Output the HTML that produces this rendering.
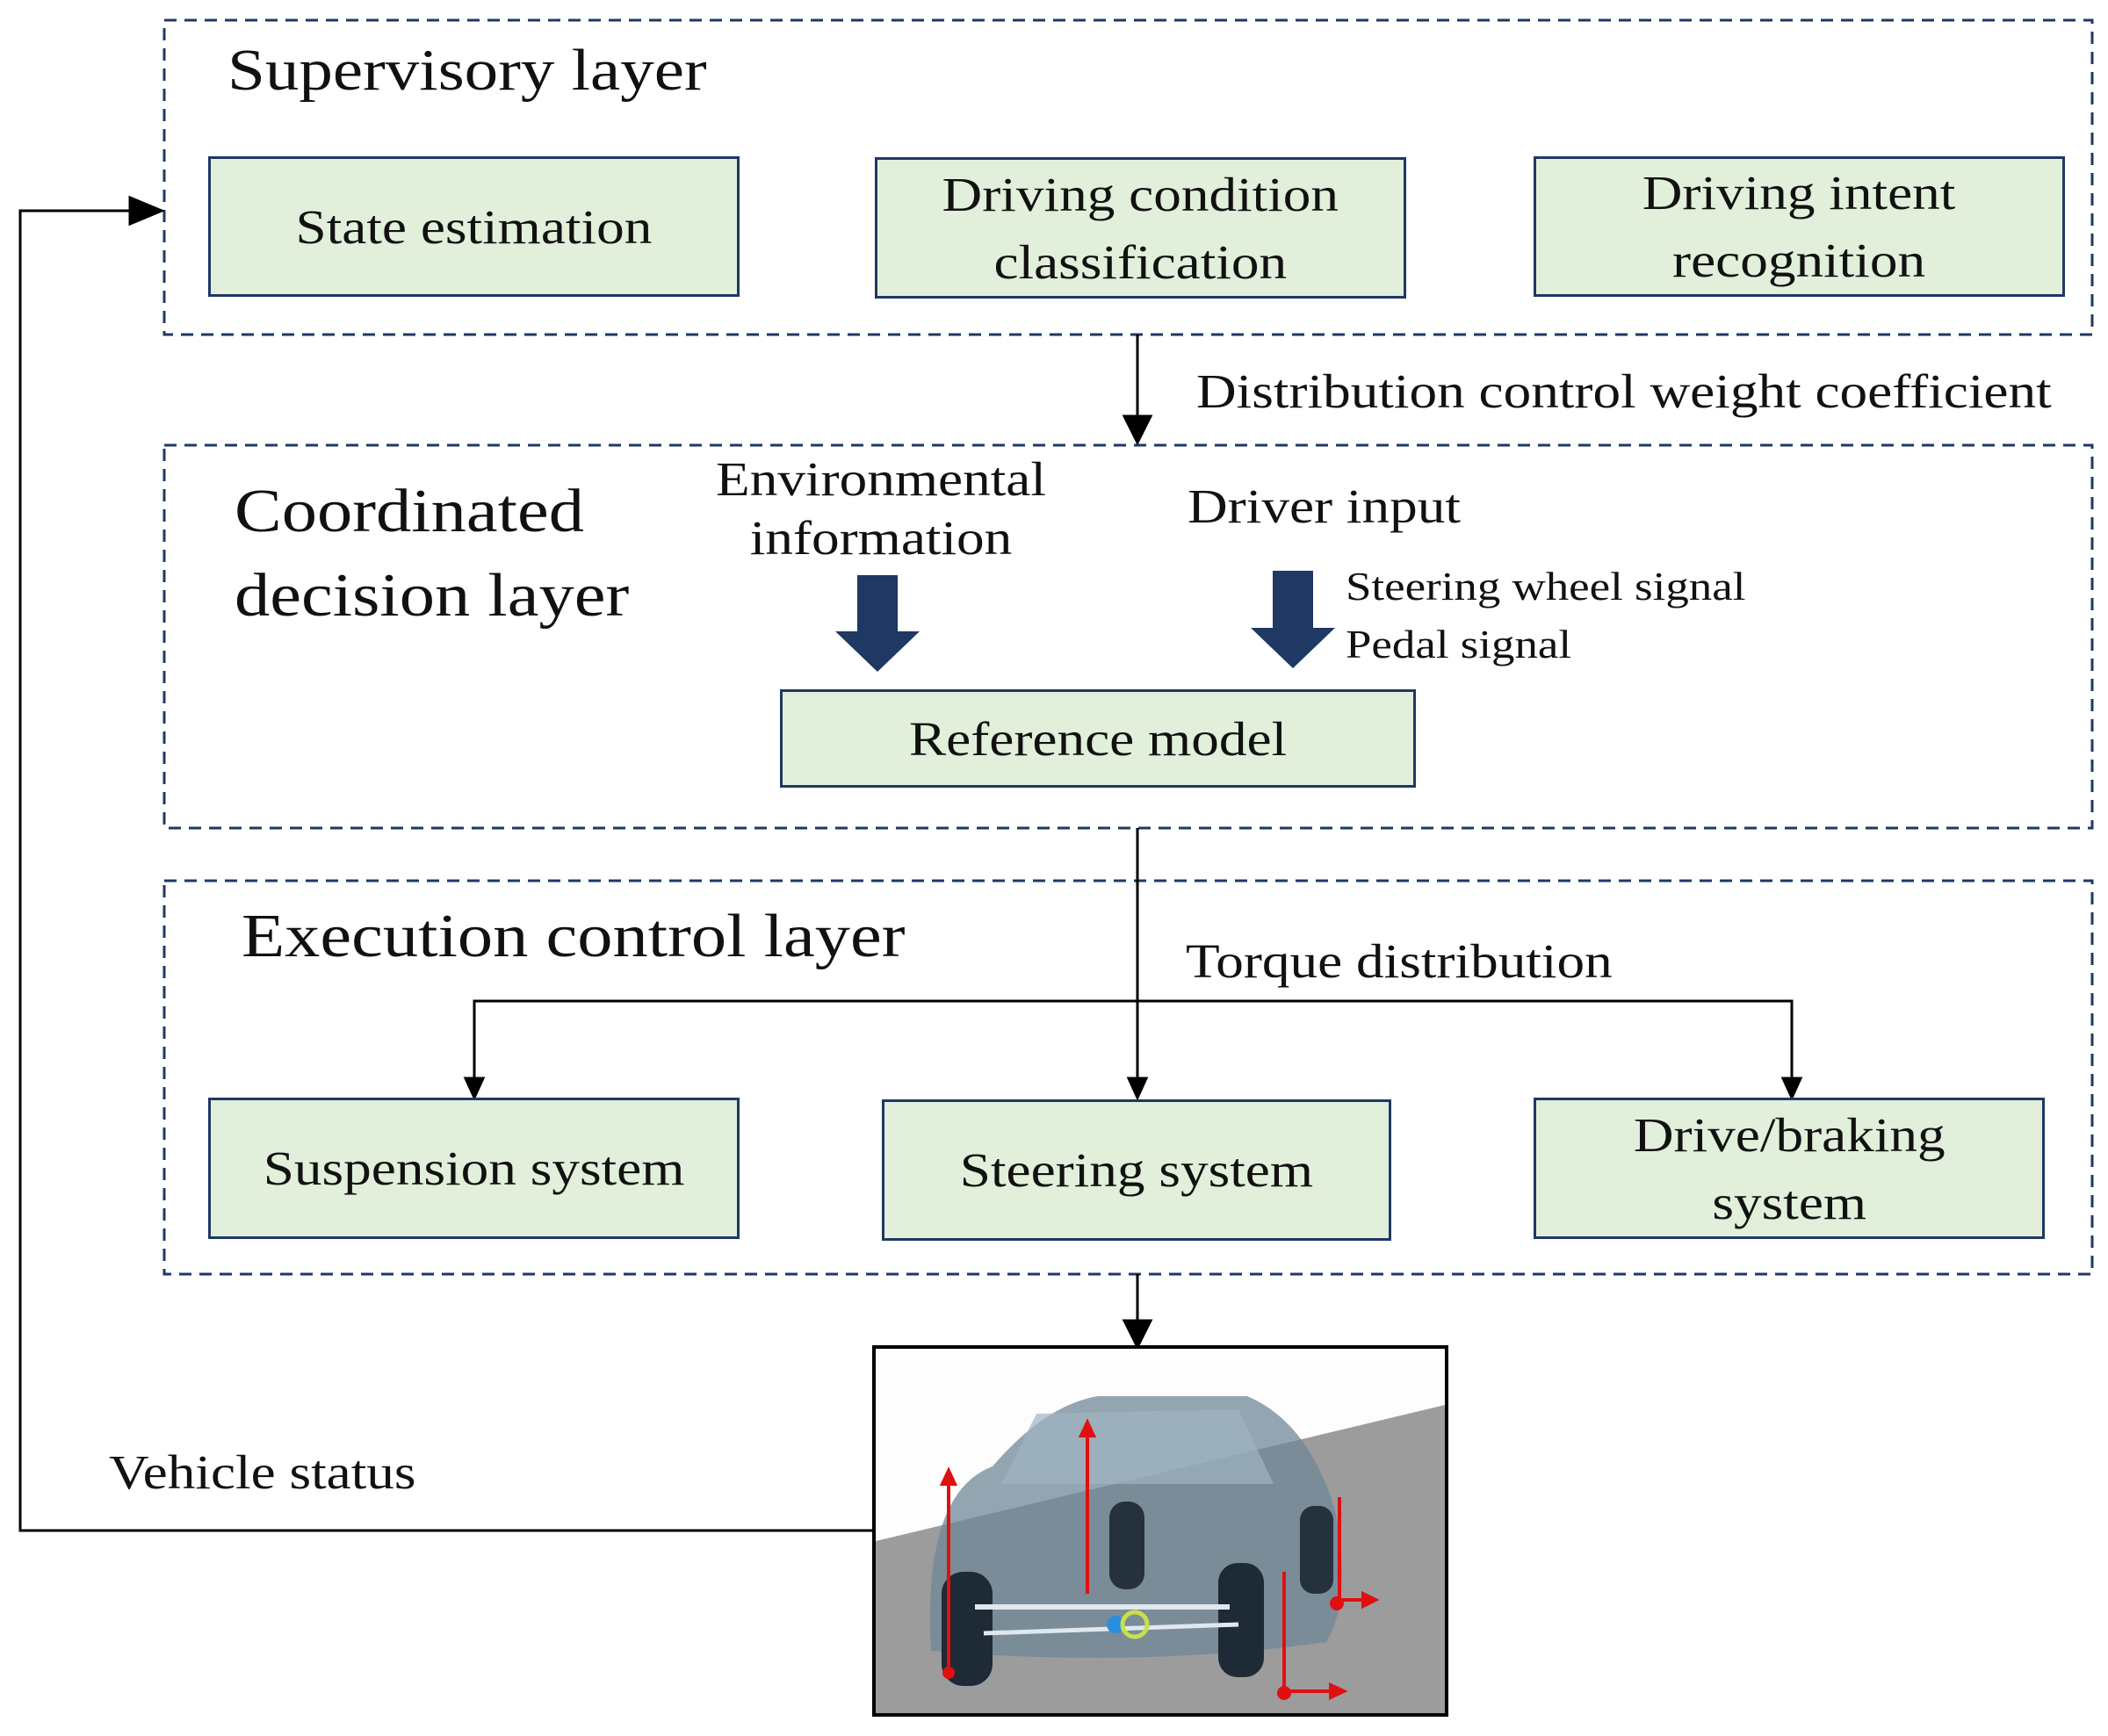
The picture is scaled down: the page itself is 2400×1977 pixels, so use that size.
<!DOCTYPE html>
<html><head><meta charset="utf-8"><style>
html,body{margin:0;padding:0;background:#fff;}
body{width:2400px;height:1977px;position:relative;overflow:hidden;font-family:"Liberation Serif",serif;color:#111;}
.t{position:absolute;white-space:nowrap;line-height:1;transform:scaleX(1.15);transform-origin:0 0;}
.box{position:absolute;background:#e2efda;border:3px solid #1f3864;box-sizing:border-box;display:flex;align-items:center;justify-content:center;text-align:center;font-size:55px;line-height:1.4;}
.box span{display:inline-block;transform:scaleX(1.15);white-space:nowrap;}
</style></head><body>
<svg width="2400" height="1977" style="position:absolute;left:0;top:0">
<g fill="none" stroke="#1f3864" stroke-width="3" stroke-dasharray="14,9">
<rect x="187" y="23" width="2195" height="358"/>
<rect x="187" y="507" width="2195" height="436"/>
<rect x="187" y="1003" width="2195" height="448"/>
</g>
<g stroke="#000" stroke-width="3" fill="none">
<line x1="1295" y1="381" x2="1295" y2="478"/>
<path d="M1280,474 L1295,504 L1310,474 z" fill="#000"/>
<line x1="1295" y1="943" x2="1295" y2="1230"/>
<path d="M1285,1228 L1295,1250 L1305,1228 z" fill="#000"/>
<polyline points="540,1230 540,1140 2040,1140 2040,1230"/>
<path d="M530,1228 L540,1250 L550,1228 z" fill="#000"/>
<path d="M2030,1228 L2040,1250 L2050,1228 z" fill="#000"/>
<line x1="1295" y1="1451" x2="1295" y2="1510"/>
<path d="M1280,1504 L1295,1534 L1310,1504 z" fill="#000"/>
<polyline points="995,1743 23,1743 23,240 150,240"/>
<path d="M148,225 L184,240 L148,255 z" fill="#000"/>
</g>
<path d="M976,655 L1022,655 L1022,719 L1047,719 L999,765 L951,719 L976,719 z" fill="#1f3864"/>
<path d="M1449,650 L1495,650 L1495,715 L1520,715 L1472,761 L1424,715 L1449,715 z" fill="#1f3864"/>
<rect x="995" y="1534" width="652" height="419" fill="#fdfdfd"/>
<polygon points="997,1755 1645,1600 1645,1951 997,1951" fill="#9c9c9c"/>
<path d="M1060,1880 Q1050,1700 1130,1670 Q1190,1600 1250,1590 L1420,1590 Q1490,1620 1520,1720 Q1540,1820 1510,1870 Q1300,1900 1060,1880 z" fill="#6f8797" opacity="0.75"/>
<path d="M1140,1690 L1180,1610 L1410,1605 L1450,1690 z" fill="#9fb3c1" opacity="0.7"/>
<rect x="1072" y="1790" width="58" height="130" rx="25" fill="#1e2a36"/>
<rect x="1263" y="1710" width="40" height="100" rx="18" fill="#25313d"/>
<rect x="1387" y="1780" width="52" height="130" rx="22" fill="#1e2a36"/>
<rect x="1480" y="1715" width="38" height="100" rx="16" fill="#25313d"/>
<line x1="1110" y1="1830" x2="1400" y2="1830" stroke="#dfe8ee" stroke-width="6"/>
<line x1="1120" y1="1860" x2="1410" y2="1850" stroke="#dfe8ee" stroke-width="5"/>
<circle cx="1270" cy="1850" r="10" fill="#2a8de0"/><circle cx="1292" cy="1850" r="14" fill="none" stroke="#c8e04a" stroke-width="5"/>
<g stroke="#e01010" stroke-width="4" fill="#e01010">
<line x1="1080" y1="1900" x2="1080" y2="1685"/><path d="M1073,1690 L1080,1675 L1087,1690z"/>
<line x1="1238" y1="1815" x2="1238" y2="1630"/><path d="M1231,1635 L1238,1620 L1245,1635z"/>
<line x1="1462" y1="1930" x2="1462" y2="1790"/><line x1="1462" y1="1926" x2="1520" y2="1926"/><path d="M1515,1919 L1530,1926 L1515,1933z"/>
<line x1="1525" y1="1825" x2="1525" y2="1705"/><line x1="1525" y1="1822" x2="1555" y2="1822"/><path d="M1552,1815 L1566,1822 L1552,1829z"/>
<circle cx="1080" cy="1905" r="5"/><circle cx="1462" cy="1928" r="6"/><circle cx="1522" cy="1826" r="6"/>
</g>
<rect x="995" y="1534" width="652" height="419" fill="none" stroke="#000" stroke-width="4"/>
</svg>
<div class="t" style="left:259px;top:47px;font-size:67px;">Supervisory layer</div>
<div class="box" style="left:237px;top:178px;width:605px;height:160px;"><span>State estimation</span></div>
<div class="box" style="left:996px;top:179px;width:605px;height:161px;"><span>Driving condition<br>classification</span></div>
<div class="box" style="left:1746px;top:178px;width:605px;height:160px;"><span>Driving intent<br>recognition</span></div>
<div class="t" style="left:1362px;top:418px;font-size:55px;">Distribution control weight coefficient</div>
<div class="t" style="left:267px;top:535px;font-size:70px;line-height:96px;">Coordinated<br>decision layer</div>
<div class="t" style="left:1003px;top:512px;font-size:55px;line-height:67px;text-align:center;transform:translateX(-50%) scaleX(1.15);transform-origin:50% 0;">Environmental<br>information</div>
<div class="t" style="left:1352px;top:549px;font-size:55px;">Driver input</div>
<div class="t" style="left:1532px;top:635px;font-size:46px;line-height:66px;">Steering wheel signal<br>Pedal signal</div>
<div class="box" style="left:888px;top:785px;width:724px;height:112px;"><span>Reference model</span></div>
<div class="t" style="left:275px;top:1032px;font-size:70px;">Execution control layer</div>
<div class="t" style="left:1350px;top:1067px;font-size:55px;">Torque distribution</div>
<div class="box" style="left:237px;top:1250px;width:605px;height:161px;"><span>Suspension system</span></div>
<div class="box" style="left:1004px;top:1252px;width:580px;height:161px;"><span>Steering system</span></div>
<div class="box" style="left:1746px;top:1250px;width:582px;height:161px;"><span>Drive/braking<br>system</span></div>
<div class="t" style="left:124px;top:1649px;font-size:55px;">Vehicle status</div>
</body></html>
